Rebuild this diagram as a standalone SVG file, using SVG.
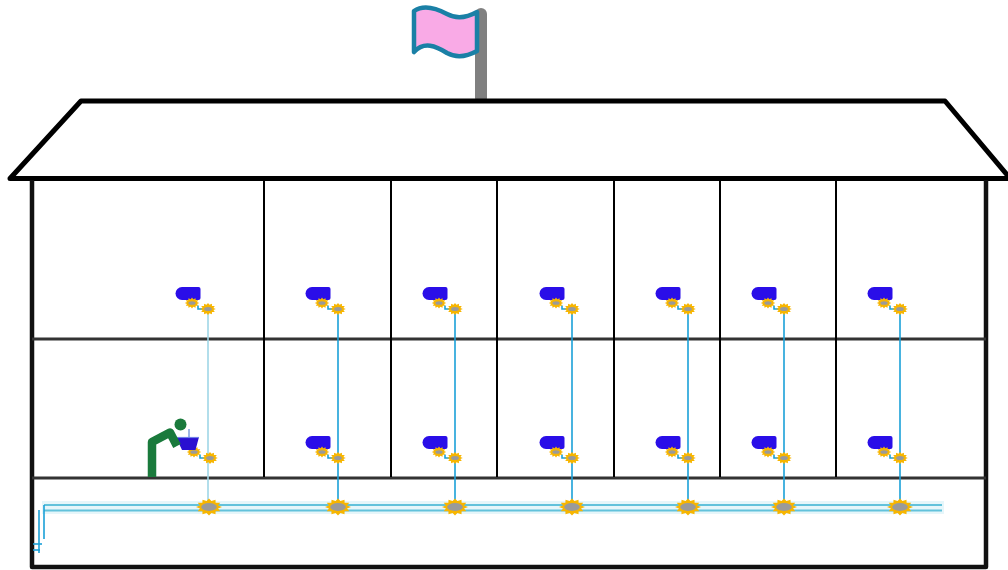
<svg xmlns="http://www.w3.org/2000/svg" xmlns:xlink="http://www.w3.org/1999/xlink" width="1008" height="570" viewBox="0 0 1008 570">
  <style>
    .wall { fill: none; stroke: #111; stroke-width: 4.5; stroke-linejoin: round; }
    .roof { fill: #fff; stroke: #000; stroke-width: 5; stroke-linejoin: round; }
    .floor { stroke: #333; stroke-width: 3; }
    .divider { stroke: #000; stroke-width: 2; }
    .riser { stroke: #1aa0d8; stroke-width: 1.6; fill: none; }
    .riser-light { stroke: #9fd6e6; stroke-width: 1.6; fill: none; }
    .pipe { stroke: #62c2db; stroke-width: 2.2; fill: none; }
    .pipe-glow { fill: #e6f6fa; }
    .feed { stroke: #1aa0d8; stroke-width: 1.6; fill: none; }
    .gear-body { fill: #f7b500; }
    .gear-core { fill: #9a9a9a; }
    .sink { fill: #2a0ee8; }
    .figure { fill: none; stroke: #1a7a3c; stroke-width: 8.5; stroke-linecap: butt; stroke-linejoin: round; }
  </style>
  <defs>
    <!-- 12-point valve gear, radius 10 -->
    <path id="gear-star" class="gear-body" d="M10,0 L6.95,1.86 L8.66,5 L5.09,5.09 L5,8.66 L1.86,6.95 L0,10 L-1.86,6.95 L-5,8.66 L-5.09,5.09 L-8.66,5 L-6.95,1.86 L-10,0 L-6.95,-1.86 L-8.66,-5 L-5.09,-5.09 L-5,-8.66 L-1.86,-6.95 L0,-10 L1.86,-6.95 L5,-8.66 L5.09,-5.09 L8.66,-5 L6.95,-1.86 Z"/>
    <g id="gear">
      <use xlink:href="#gear-star"/>
      <ellipse class="gear-core" cx="0" cy="0" rx="6" ry="4.6"/>
    </g>
    <g id="gear-small">
      <use xlink:href="#gear-star"/>
      <ellipse class="gear-core" cx="0" cy="0" rx="5" ry="3.4"/>
    </g>
    <!-- valve pair with short feed, origin at the riser take-off -->
    <g id="valves">
      <path class="feed" d="M-10,-3.5 V0 H-4"/>
      <use xlink:href="#gear-small" transform="translate(-16,-6) scale(0.72,0.55)"/>
      <use xlink:href="#gear-small" transform="translate(0,0) scale(0.78,0.6)"/>
    </g>
    <!-- wall-hung fountain: basin and valves -->
    <g id="fixture">
      <path class="sink" d="M-26,-22 H-9.5 Q-7.5,-22 -7.5,-20 V-11 Q-7.5,-9 -9.5,-9 H-26 A6.5,6.5 0 0 1 -26,-22 Z"/>
      <use xlink:href="#valves"/>
    </g>
  </defs>

  <!-- flag on the ridge -->
  <g id="flag">
    <line x1="481" y1="14" x2="481" y2="98" stroke="#808080" stroke-width="12" stroke-linecap="round"/>
    <path d="M414,11 C424,4 436,8 447,14 C458,20 468,17 477,12 L477,51 C468,56 458,59 447,53 C436,46 424,41 414,52 Z" fill="#f9aae6" stroke="#1a80a6" stroke-width="4.5" stroke-linejoin="round"/>
  </g>

  <!-- roof -->
  <g id="roof">
    <path class="roof" d="M10,178.5 L81,101 L945,101 L1008,176 L1008,178.5 Z"/>
    <line x1="10" y1="178.5" x2="1008" y2="178.5" stroke="#000" stroke-width="5"/>
  </g>

  <!-- building shell, floors and rooms -->
  <g id="building">
    <path class="wall" d="M32,180 V567 H986 V180"/>
    <line class="floor" x1="32" y1="339" x2="986" y2="339"/>
    <line class="floor" x1="32" y1="478" x2="986" y2="478"/>
    <line class="divider" x1="264" y1="181" x2="264" y2="477"/>
    <line class="divider" x1="391" y1="181" x2="391" y2="477"/>
    <line class="divider" x1="497" y1="181" x2="497" y2="477"/>
    <line class="divider" x1="614" y1="181" x2="614" y2="477"/>
    <line class="divider" x1="720" y1="181" x2="720" y2="477"/>
    <line class="divider" x1="836" y1="181" x2="836" y2="477"/>
  </g>

  <!-- supply main and risers -->
  <g id="connectors">
    <rect class="pipe-glow" x="42" y="501" width="902" height="13"/>
    <line class="pipe" x1="44" y1="505" x2="942" y2="505"/>
    <line class="pipe" x1="44" y1="510.5" x2="942" y2="510.5"/>
    <path class="feed" d="M44,505 V539"/>
    <path class="feed" d="M39,510 V553"/>
    <path class="feed" d="M33,544 H42"/>
    <path class="feed" d="M33,550 H40"/>
    <line class="riser-light" x1="208" y1="309" x2="208" y2="507"/>
    <line class="riser" x1="338" y1="309" x2="338" y2="507"/>
    <line class="riser" x1="455" y1="309" x2="455" y2="507"/>
    <line class="riser" x1="572" y1="309" x2="572" y2="507"/>
    <line class="riser" x1="688" y1="309" x2="688" y2="507"/>
    <line class="riser" x1="784" y1="309" x2="784" y2="507"/>
    <line class="riser" x1="900" y1="309" x2="900" y2="507"/>
  </g>

  <!-- main valves -->
  <g id="main-valves">
    <use xlink:href="#gear" transform="translate(209,507) scale(1.3,0.85)"/>
    <use xlink:href="#gear" transform="translate(338,507) scale(1.3,0.85)"/>
    <use xlink:href="#gear" transform="translate(455,507) scale(1.3,0.85)"/>
    <use xlink:href="#gear" transform="translate(572,507) scale(1.3,0.85)"/>
    <use xlink:href="#gear" transform="translate(688,507) scale(1.3,0.85)"/>
    <use xlink:href="#gear" transform="translate(784,507) scale(1.3,0.85)"/>
    <use xlink:href="#gear" transform="translate(900,507) scale(1.3,0.85)"/>
  </g>

  <!-- upper floor fountains -->
  <g id="fixtures-upper">
    <use xlink:href="#fixture" transform="translate(208,309)"/>
    <use xlink:href="#fixture" transform="translate(338,309)"/>
    <use xlink:href="#fixture" transform="translate(455,309)"/>
    <use xlink:href="#fixture" transform="translate(572,309)"/>
    <use xlink:href="#fixture" transform="translate(688,309)"/>
    <use xlink:href="#fixture" transform="translate(784,309)"/>
    <use xlink:href="#fixture" transform="translate(900,309)"/>
  </g>

  <!-- lower floor fountains -->
  <g id="fixtures-lower">
    <use xlink:href="#fixture" transform="translate(338,458)"/>
    <use xlink:href="#fixture" transform="translate(455,458)"/>
    <use xlink:href="#fixture" transform="translate(572,458)"/>
    <use xlink:href="#fixture" transform="translate(688,458)"/>
    <use xlink:href="#fixture" transform="translate(784,458)"/>
    <use xlink:href="#fixture" transform="translate(900,458)"/>
  </g>

  <!-- person drinking at the first fountain -->
  <g id="drinker">
    <use xlink:href="#valves" transform="translate(210,458)"/>
    <line x1="189" y1="429" x2="189" y2="437" stroke="#9fb6e6" stroke-width="2"/>
    <path d="M176,437 H199 L195.5,450 H182 Z" fill="#2a10d0"/>
    <line x1="176" y1="437.5" x2="199" y2="437.5" stroke="#6f7fe8" stroke-width="1.2"/>
    <circle cx="180.5" cy="424.5" r="6" fill="#1a7a3c"/>
    <path class="figure" d="M152,477 V442 L170,432.5 L177,446"/>
  </g>
</svg>
